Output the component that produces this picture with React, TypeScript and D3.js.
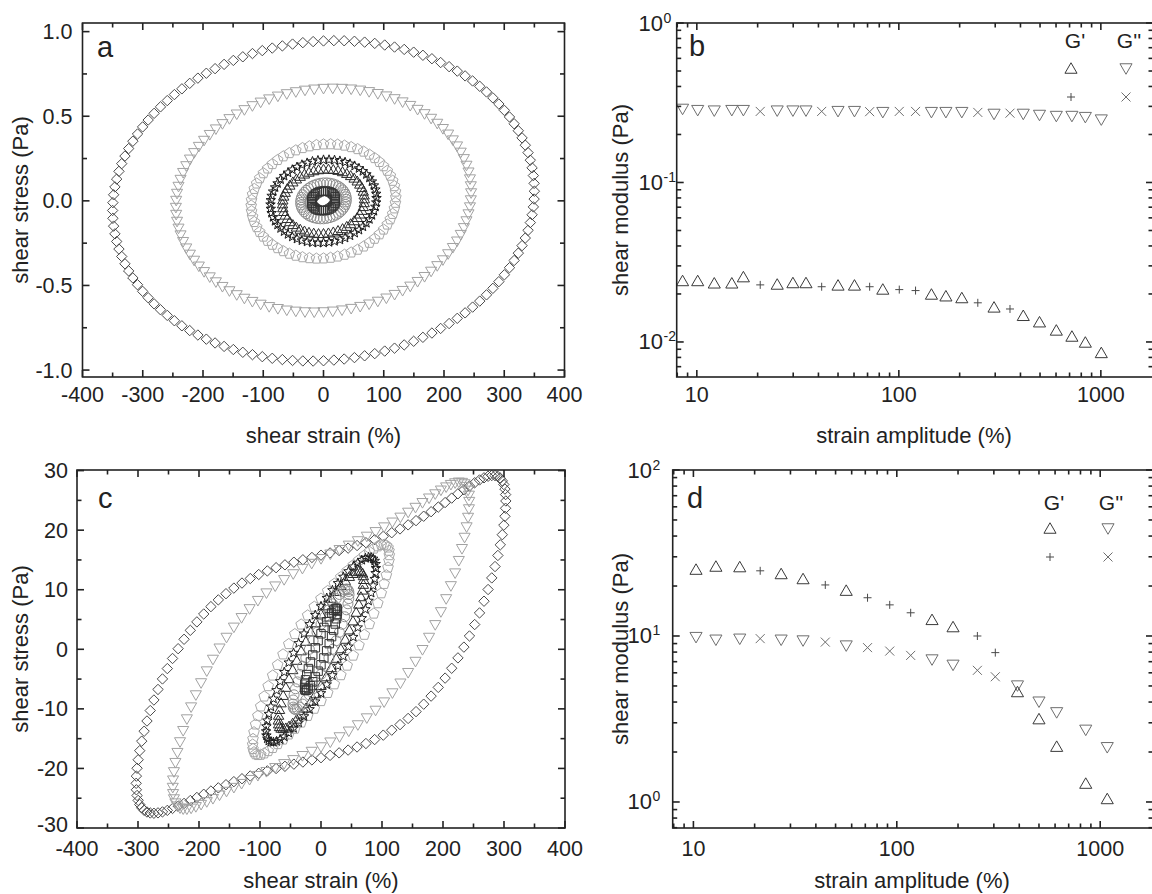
import React, { useEffect, useRef } from 'react';
import * as d3 from 'd3';

const W = 1152;
const H = 894;
const FONT = "'Liberation Sans', Arial, Helvetica, sans-serif";
const INK = '#222';

// ---- a / c: Lissajous loops, one per strain amplitude ----
const loopMarkers = ['diamond', 'triangleDown', 'pentagon', 'star', 'triangle', 'circle', 'square'];
const loopColors = ['#4a4a4a', '#a2a2a2', '#a8a8a8', '#1c1c1c', '#2c2c2c', '#8e8e8e', '#333333'];
const loopSizes = [5.2, 6.4, 5.6, 5, 6, 5, 4.2];
const loopCounts = [128, 100, 64, 60, 52, 44, 36];

// a: strain amplitude (%), in-phase / out-of-phase stress amplitude (Pa)
const strainAmpA = [350, 245, 120, 88, 68, 38, 20];
const stressElasticA = [0.057, 0.043, 0.025, 0.019, 0.015, 0.009, 0.005];
const stressViscousA = [0.945, 0.66, 0.337, 0.245, 0.19, 0.106, 0.058];

// c: same, with higher harmonic terms for the non-linear loops
const strainAmpC = [303, 243, 112, 90, 70, 46, 27];
const stressElasticC = [19.7, 21.1, 15.3, 13.7, 11.8, 9.2, 6.4];
const stressViscousC = [18.6, 16.4, 8.6, 7.3, 6.0, 4.2, 2.6];
const stressElastic3C = [-4.0, -2.9, -0.6, 0, 0, 0, 0];
const stressViscous3C = [-1.6, -0.6, 0, 0, 0, 0, 0];
const stressEven2C = [-1.2, -0.7, 0, 0, 0, 0, 0];

// ---- b: amplitude sweep ----
const strainB = [8.5, 10.1, 12.2, 14.9, 17, 20.6, 25, 29.9, 34.7, 41.5, 50, 60.3, 71.7, 83.3, 100.5, 121, 145, 171, 205, 246, 296, 355, 413, 497, 602, 719, 838, 1005];
const storageB = [0.0243, 0.0243, 0.0235, 0.0235, 0.0257, 0.0228, 0.0231, 0.0236, 0.0236, 0.0222, 0.0228, 0.0228, 0.0222, 0.0215, 0.0213, 0.021, 0.02, 0.0195, 0.019, 0.0176, 0.0166, 0.0161, 0.0147, 0.0134, 0.0119, 0.0109, 0.01, 0.0086];
const lossB = [0.287, 0.282, 0.28, 0.282, 0.282, 0.279, 0.28, 0.28, 0.28, 0.279, 0.278, 0.278, 0.278, 0.274, 0.279, 0.279, 0.274, 0.274, 0.274, 0.275, 0.267, 0.272, 0.267, 0.263, 0.259, 0.259, 0.255, 0.246];
// 0 = first run (triangles), 1 = second run (+ / x)
const runB = [0, 0, 0, 0, 0, 1, 0, 0, 0, 1, 0, 0, 1, 0, 1, 1, 0, 0, 0, 1, 0, 1, 0, 0, 0, 0, 0, 0];

// ---- d: amplitude sweep ----
const strainD = [10.3, 12.9, 16.9, 21.3, 27, 34.6, 44.5, 56.4, 71.8, 92.3, 117, 149, 189, 249, 305, 392, 500, 611, 849, 1083];
const storageD = [25.3, 26.4, 26.2, 24.7, 23.8, 22.2, 20.3, 18.9, 17.0, 15.4, 13.8, 12.6, 11.4, 10.0, 7.94, 4.63, 3.18, 2.17, 1.3, 1.05];
const lossD = [9.77, 9.42, 9.55, 9.64, 9.42, 9.32, 9.19, 8.69, 8.51, 8.11, 7.64, 7.16, 6.65, 6.21, 5.68, 4.99, 3.99, 3.44, 2.7, 2.12];
const runD = [0, 0, 0, 1, 0, 0, 1, 0, 1, 1, 1, 0, 0, 1, 1, 0, 0, 0, 0, 0];

const linTicksX = d3.range(-8, 9).map((k) => ({ v: k * 50, major: k % 2 === 0 }));
const xLabelsLin = d3.range(-4, 5).map((k) => k * 100);
const yTicksA = d3.range(-4, 5).map((k) => ({ v: k * 0.25, major: k % 2 === 0 }));
const yLabelsA = ['-1.0', '-0.5', '0.0', '0.5', '1.0'];
const yTicksC = d3.range(-6, 7).map((k) => ({ v: k * 5, major: k % 2 === 0 }));
const yLabelsC = [-30, -20, -10, 0, 10, 20, 30];
const xLabelsLog = [10, 100, 1000];

type Tick = { v: number; major: boolean };

const logTicks = (lo: number, hi: number): Tick[] => {
  const out: Tick[] = [];
  for (let e = Math.floor(Math.log10(lo)); e <= Math.ceil(Math.log10(hi)); e++) {
    for (let m = 1; m <= 9; m++) {
      const v = m * Math.pow(10, e);
      if (v >= lo * 0.999 && v <= hi * 1.001) out.push({ v, major: m === 1 });
    }
  }
  return out;
};

const markerPath = (kind: string, r: number): string => {
  const poly = (n: number, rot: number, rad: (i: number) => number, dy = 0) =>
    'M' +
    d3
      .range(n)
      .map((i) => {
        const a = rot + (i * 2 * Math.PI) / n;
        return `${(rad(i) * Math.cos(a)).toFixed(2)},${(rad(i) * Math.sin(a) + dy).toFixed(2)}`;
      })
      .join('L') +
    'Z';
  switch (kind) {
    case 'diamond':
      return poly(4, -Math.PI / 2, () => r);
    case 'triangle':
      return poly(3, -Math.PI / 2, () => r, r * 0.25);
    case 'triangleDown':
      return poly(3, Math.PI / 2, () => r, -r * 0.25);
    case 'pentagon':
      return poly(5, -Math.PI / 2, () => r, r * 0.1);
    case 'star':
      return poly(10, -Math.PI / 2, (i) => (i % 2 ? r * 0.42 : r), r * 0.1);
    case 'square':
      return `M${-r},${-r}H${r}V${r}H${-r}Z`;
    case 'circle':
      return `M${r},0A${r},${r} 0 1,1 ${-r},0A${r},${r} 0 1,1 ${r},0Z`;
    case 'plus':
      return `M${-r},0H${r}M0,${-r}V${r}`;
    default:
      return `M${-r},${-r}L${r},${r}M${-r},${r}L${r},${-r}`;
  }
};

const App = () => {
  const ref = useRef<SVGSVGElement>(null);

  useEffect(() => {
    if (!ref.current) return;
    const svg = d3.select(ref.current);
    svg.selectAll('*').remove();
    svg.append('rect').attr('width', W).attr('height', H).attr('fill', '#fff');

    const root = svg.append('g').attr('font-family', FONT).attr('fill', INK);

    const drawBox = (x: any, y: any, xt: Tick[], yt: Tick[]) => {
      const [x0, x1] = x.range();
      const [y0, y1] = y.range();
      const g = root.append('g').attr('stroke', INK).attr('stroke-width', 1.6).attr('fill', 'none');
      g.append('rect').attr('x', x0).attr('y', y1).attr('width', x1 - x0).attr('height', y0 - y1);
      xt.forEach((t) => {
        const px = x(t.v);
        const len = t.major ? 7 : 4.5;
        g.append('line').attr('x1', px).attr('x2', px).attr('y1', y0).attr('y2', y0 - len);
        g.append('line').attr('x1', px).attr('x2', px).attr('y1', y1).attr('y2', y1 + len);
      });
      yt.forEach((t) => {
        const py = y(t.v);
        const len = t.major ? 7 : 4.5;
        g.append('line').attr('x1', x0).attr('x2', x0 + len).attr('y1', py).attr('y2', py);
        g.append('line').attr('x1', x1).attr('x2', x1 - len).attr('y1', py).attr('y2', py);
      });
    };

    const xLabel = (x: any, vals: number[], yPos: number) => {
      vals.forEach((v) => {
        root.append('text').attr('x', x(v)).attr('y', yPos).attr('text-anchor', 'middle')
          .attr('font-size', 21.5).text(String(v));
      });
    };

    const titles = (xt: string, xc: number, xy: number, yt: string, yx: number, yc: number) => {
      root.append('text').attr('x', xc).attr('y', xy).attr('text-anchor', 'middle').attr('font-size', 22).text(xt);
      root.append('text').attr('transform', `translate(${yx},${yc}) rotate(-90)`)
        .attr('text-anchor', 'middle').attr('font-size', 22).text(yt);
    };

    const panelLetter = (s: string, px: number, py: number) => {
      root.append('text').attr('x', px).attr('y', py).attr('font-size', 29).text(s);
    };

    const drawLoops = (x: any, y: any, amp: number[], e1: number[], v1: number[], e3: number[], v3: number[], c2: number[]) => {
      loopMarkers.forEach((m, k) => {
        const pts = d3.range(loopCounts[k]).map((i) => {
          const t = (2 * Math.PI * i) / loopCounts[k];
          return [
            amp[k] * Math.sin(t),
            e1[k] * Math.sin(t) + v1[k] * Math.cos(t) + e3[k] * Math.sin(3 * t) + v3[k] * Math.cos(3 * t) + c2[k] * Math.cos(2 * t),
          ];
        });
        root.append('g').selectAll('path').data(pts).join('path')
          .attr('transform', (d) => `translate(${x(d[0])},${y(d[1])})`)
          .attr('d', markerPath(m, loopSizes[k]))
          .attr('fill', 'none').attr('stroke', loopColors[k]).attr('stroke-width', 1);
      });
    };

    const drawSweep = (x: any, y: any, strain: number[], gs: number[], gl: number[], run: number[]) => {
      const g = root.append('g').attr('fill', 'none').attr('stroke-width', 1);
      strain.forEach((s, i) => {
        g.append('path').attr('transform', `translate(${x(s)},${y(gl[i])})`)
          .attr('d', markerPath(run[i] ? 'times' : 'triangleDown', run[i] ? 4.5 : 7))
          .attr('stroke', '#6e6e6e');
        g.append('path').attr('transform', `translate(${x(s)},${y(gs[i])})`)
          .attr('d', markerPath(run[i] ? 'plus' : 'triangle', run[i] ? 4 : 7))
          .attr('stroke', run[i] ? '#4a4a4a' : '#3a3a3a');
      });
    };

    const legend = (xa: number, xb: number, ty: number, y1: number, y2: number) => {
      root.append('text').attr('x', xa).attr('y', ty).attr('text-anchor', 'middle').attr('font-size', 21).text("G'");
      root.append('text').attr('x', xb).attr('y', ty).attr('text-anchor', 'middle').attr('font-size', 21).text("G''");
      const g = root.append('g').attr('fill', 'none').attr('stroke-width', 1);
      g.append('path').attr('transform', `translate(${xa - 4},${y1})`).attr('d', markerPath('triangle', 7)).attr('stroke', '#3a3a3a');
      g.append('path').attr('transform', `translate(${xb - 3},${y1 + 1})`).attr('d', markerPath('triangleDown', 7)).attr('stroke', '#6e6e6e');
      g.append('path').attr('transform', `translate(${xa - 4},${y2})`).attr('d', markerPath('plus', 4)).attr('stroke', '#4a4a4a');
      g.append('path').attr('transform', `translate(${xb - 3},${y2})`).attr('d', markerPath('times', 4.5)).attr('stroke', '#6e6e6e');
    };

    const logYLabels = (y: any, exps: number[], right: number) => {
      exps.forEach((e) => {
        const py = y(Math.pow(10, e));
        root.append('text').attr('x', right).attr('y', py + 7.5).attr('text-anchor', 'end').attr('font-size', 22).text('10');
        root.append('text').attr('x', right + 0.5).attr('y', py - 0.5).attr('font-size', 14).text(String(e));
      });
    };

    // ---------- a ----------
    const xa = d3.scaleLinear().domain([-400, 400]).range([82.5, 564.5]);
    const ya = d3.scaleLinear().domain([-1.041, 1.051]).range([377, 23]);
    const zeros = loopMarkers.map(() => 0);
    drawLoops(xa, ya, strainAmpA, stressElasticA, stressViscousA, zeros, zeros, zeros);
    drawBox(xa, ya, linTicksX, yTicksA);
    xLabel(xa, xLabelsLin, 402);
    [-1, -0.5, 0, 0.5, 1].forEach((v, i) => {
      root.append('text').attr('x', 72.5).attr('y', ya(v) + 7.5).attr('text-anchor', 'end').attr('font-size', 21.5).text(yLabelsA[i]);
    });
    titles('shear strain (%)', 323.5, 443, 'shear stress (Pa)', 28, 200);
    panelLetter('a', 97, 57);

    // ---------- b ----------
    const xb = d3.scaleLog().domain([7.95, 1812]).range([676.7, 1153]);
    const yb = d3.scaleLog().domain([0.00603, 1]).range([377, 23]);
    drawSweep(xb, yb, strainB, storageB, lossB, runB);
    drawBox(xb, yb, logTicks(7.95, 1812), logTicks(0.00603, 1));
    xLabel(xb, xLabelsLog, 402);
    logYLabels(yb, [-2, -1, 0], 663);
    titles('strain amplitude (%)', 914, 443, 'shear modulus (Pa)', 628, 200);
    panelLetter('b', 689, 56);
    legend(1075, 1129, 48, 68, 97);

    // ---------- c ----------
    const xc = d3.scaleLinear().domain([-400, 400]).range([77, 565]);
    const yc = d3.scaleLinear().domain([-30, 30.1]).range([828, 470]);
    drawLoops(xc, yc, strainAmpC, stressElasticC, stressViscousC, stressElastic3C, stressViscous3C, stressEven2C);
    drawBox(xc, yc, linTicksX, yTicksC);
    xLabel(xc, xLabelsLin, 856);
    yLabelsC.forEach((v) => {
      root.append('text').attr('x', 68).attr('y', yc(v) + (v === -30 ? 4 : 7.5)).attr('text-anchor', 'end').attr('font-size', 21.5).text(String(v));
    });
    titles('shear strain (%)', 321, 888, 'shear stress (Pa)', 28, 649);
    panelLetter('c', 98, 508);

    // ---------- d ----------
    const xd = d3.scaleLog().domain([7.91, 1818]).range([672.7, 1153]);
    const yd = d3.scaleLog().domain([0.697, 100]).range([828, 470]);
    drawSweep(xd, yd, strainD, storageD, lossD, runD);
    drawBox(xd, yd, logTicks(7.91, 1818), logTicks(0.697, 100));
    xLabel(xd, xLabelsLog, 856);
    logYLabels(yd, [0, 1, 2], 652);
    titles('strain amplitude (%)', 912, 888, 'shear modulus (Pa)', 628, 649);
    panelLetter('d', 687, 508);
    legend(1054, 1111, 510, 528, 557);
  }, []);

  return (
    <div style={{ position: 'absolute', left: 0, top: 0 }}>
      <svg ref={ref} width={W} height={H} style={{ display: 'block' }} />
    </div>
  );
};

export default App;
